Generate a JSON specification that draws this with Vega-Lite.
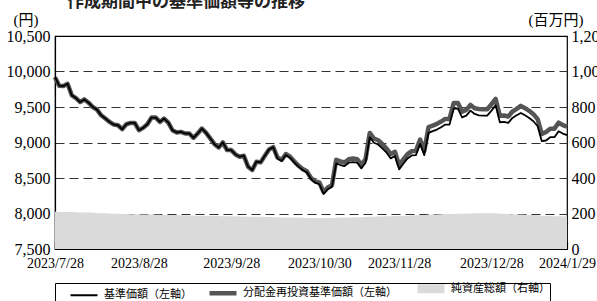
{
  "$schema": "https://vega.github.io/schema/vega-lite/v6.json",
  "width": 512,
  "height": 213,
  "autosize": "none",
  "padding": {"left": 55, "top": 36, "right": 30, "bottom": 52},
  "background": "white",
  "config": {
    "view": {"stroke": "black", "strokeWidth": 1.2},
    "font": "Liberation Serif"
  },
  "title": {
    "text": "作成期間中の基準価額等の推移",
    "anchor": "start",
    "frame": "group",
    "offset": -12,
    "baseline": "alphabetic",
    "dx": 12,
    "font": "Noto Sans CJK JP",
    "fontSize": 17,
    "fontWeight": "bold",
    "color": "#222222"
  },
  "data": {
    "values": [
      {"d": "2023/7/28", "nav": 9920, "re": 9920, "aum": 210},
      {"d": "2023/7/31", "nav": 9800, "re": 9800, "aum": 209},
      {"d": "2023/8/1", "nav": 9795, "re": 9795, "aum": 209},
      {"d": "2023/8/2", "nav": 9827, "re": 9827, "aum": 208},
      {"d": "2023/8/3", "nav": 9664, "re": 9664, "aum": 208},
      {"d": "2023/8/4", "nav": 9626, "re": 9626, "aum": 207},
      {"d": "2023/8/7", "nav": 9570, "re": 9570, "aum": 206},
      {"d": "2023/8/8", "nav": 9607, "re": 9607, "aum": 206},
      {"d": "2023/8/9", "nav": 9561, "re": 9561, "aum": 205},
      {"d": "2023/8/10", "nav": 9500, "re": 9500, "aum": 204},
      {"d": "2023/8/14", "nav": 9463, "re": 9463, "aum": 203},
      {"d": "2023/8/15", "nav": 9383, "re": 9383, "aum": 202},
      {"d": "2023/8/16", "nav": 9337, "re": 9337, "aum": 201},
      {"d": "2023/8/17", "nav": 9290, "re": 9290, "aum": 200},
      {"d": "2023/8/18", "nav": 9253, "re": 9253, "aum": 199},
      {"d": "2023/8/21", "nav": 9243, "re": 9243, "aum": 198},
      {"d": "2023/8/22", "nav": 9187, "re": 9187, "aum": 198},
      {"d": "2023/8/23", "nav": 9257, "re": 9257, "aum": 197},
      {"d": "2023/8/24", "nav": 9276, "re": 9276, "aum": 196},
      {"d": "2023/8/25", "nav": 9276, "re": 9276, "aum": 196},
      {"d": "2023/8/28", "nav": 9173, "re": 9173, "aum": 195},
      {"d": "2023/8/29", "nav": 9206, "re": 9206, "aum": 195},
      {"d": "2023/8/30", "nav": 9257, "re": 9257, "aum": 194},
      {"d": "2023/8/31", "nav": 9351, "re": 9351, "aum": 194},
      {"d": "2023/9/1", "nav": 9351, "re": 9351, "aum": 193},
      {"d": "2023/9/4", "nav": 9290, "re": 9290, "aum": 193},
      {"d": "2023/9/5", "nav": 9337, "re": 9337, "aum": 192},
      {"d": "2023/9/6", "nav": 9281, "re": 9281, "aum": 192},
      {"d": "2023/9/7", "nav": 9173, "re": 9173, "aum": 191},
      {"d": "2023/9/8", "nav": 9141, "re": 9141, "aum": 191},
      {"d": "2023/9/11", "nav": 9150, "re": 9150, "aum": 190},
      {"d": "2023/9/12", "nav": 9127, "re": 9127, "aum": 190},
      {"d": "2023/9/13", "nav": 9127, "re": 9127, "aum": 189},
      {"d": "2023/9/14", "nav": 9066, "re": 9066, "aum": 189},
      {"d": "2023/9/15", "nav": 9127, "re": 9127, "aum": 188},
      {"d": "2023/9/19", "nav": 9197, "re": 9197, "aum": 188},
      {"d": "2023/9/20", "nav": 9136, "re": 9136, "aum": 187},
      {"d": "2023/9/21", "nav": 9057, "re": 9057, "aum": 187},
      {"d": "2023/9/22", "nav": 8977, "re": 8977, "aum": 186},
      {"d": "2023/9/25", "nav": 8930, "re": 8930, "aum": 186},
      {"d": "2023/9/26", "nav": 9001, "re": 9001, "aum": 185},
      {"d": "2023/9/27", "nav": 8893, "re": 8893, "aum": 185},
      {"d": "2023/9/28", "nav": 8893, "re": 8893, "aum": 184},
      {"d": "2023/9/29", "nav": 8832, "re": 8832, "aum": 184},
      {"d": "2023/10/2", "nav": 8800, "re": 8800, "aum": 183},
      {"d": "2023/10/3", "nav": 8814, "re": 8814, "aum": 183},
      {"d": "2023/10/4", "nav": 8660, "re": 8660, "aum": 182},
      {"d": "2023/10/5", "nav": 8613, "re": 8613, "aum": 182},
      {"d": "2023/10/6", "nav": 8730, "re": 8730, "aum": 181},
      {"d": "2023/10/10", "nav": 8720, "re": 8720, "aum": 181},
      {"d": "2023/10/11", "nav": 8814, "re": 8814, "aum": 180},
      {"d": "2023/10/12", "nav": 8902, "re": 8902, "aum": 180},
      {"d": "2023/10/13", "nav": 8935, "re": 8935, "aum": 179},
      {"d": "2023/10/16", "nav": 8776, "re": 8791, "aum": 179},
      {"d": "2023/10/17", "nav": 8739, "re": 8754, "aum": 178},
      {"d": "2023/10/18", "nav": 8823, "re": 8838, "aum": 178},
      {"d": "2023/10/19", "nav": 8786, "re": 8801, "aum": 177},
      {"d": "2023/10/20", "nav": 8720, "re": 8735, "aum": 177},
      {"d": "2023/10/23", "nav": 8660, "re": 8675, "aum": 176},
      {"d": "2023/10/24", "nav": 8613, "re": 8628, "aum": 176},
      {"d": "2023/10/25", "nav": 8580, "re": 8595, "aum": 175},
      {"d": "2023/10/26", "nav": 8485, "re": 8500, "aum": 175},
      {"d": "2023/10/27", "nav": 8435, "re": 8450, "aum": 175},
      {"d": "2023/10/30", "nav": 8412, "re": 8437, "aum": 174},
      {"d": "2023/10/31", "nav": 8275, "re": 8300, "aum": 174},
      {"d": "2023/11/1", "nav": 8342, "re": 8367, "aum": 175},
      {"d": "2023/11/2", "nav": 8375, "re": 8400, "aum": 175},
      {"d": "2023/11/6", "nav": 8706, "re": 8756, "aum": 176},
      {"d": "2023/11/7", "nav": 8683, "re": 8733, "aum": 176},
      {"d": "2023/11/8", "nav": 8669, "re": 8719, "aum": 177},
      {"d": "2023/11/9", "nav": 8715, "re": 8765, "aum": 177},
      {"d": "2023/11/10", "nav": 8725, "re": 8775, "aum": 178},
      {"d": "2023/11/13", "nav": 8715, "re": 8765, "aum": 179},
      {"d": "2023/11/14", "nav": 8636, "re": 8686, "aum": 179},
      {"d": "2023/11/15", "nav": 8715, "re": 8765, "aum": 180},
      {"d": "2023/11/16", "nav": 9075, "re": 9135, "aum": 181},
      {"d": "2023/11/17", "nav": 8996, "re": 9056, "aum": 182},
      {"d": "2023/11/20", "nav": 8972, "re": 9032, "aum": 183},
      {"d": "2023/11/21", "nav": 8916, "re": 8976, "aum": 183},
      {"d": "2023/11/22", "nav": 8856, "re": 8916, "aum": 184},
      {"d": "2023/11/24", "nav": 8776, "re": 8836, "aum": 185},
      {"d": "2023/11/27", "nav": 8809, "re": 8869, "aum": 186},
      {"d": "2023/11/28", "nav": 8622, "re": 8682, "aum": 186},
      {"d": "2023/11/29", "nav": 8701, "re": 8761, "aum": 187},
      {"d": "2023/11/30", "nav": 8776, "re": 8836, "aum": 188},
      {"d": "2023/12/1", "nav": 8818, "re": 8878, "aum": 189},
      {"d": "2023/12/4", "nav": 8822, "re": 8882, "aum": 190},
      {"d": "2023/12/5", "nav": 8981, "re": 9041, "aum": 191},
      {"d": "2023/12/6", "nav": 8822, "re": 8882, "aum": 192},
      {"d": "2023/12/7", "nav": 9136, "re": 9216, "aum": 193},
      {"d": "2023/12/8", "nav": 9159, "re": 9239, "aum": 194},
      {"d": "2023/12/11", "nav": 9182, "re": 9262, "aum": 195},
      {"d": "2023/12/12", "nav": 9215, "re": 9295, "aum": 196},
      {"d": "2023/12/13", "nav": 9252, "re": 9332, "aum": 197},
      {"d": "2023/12/14", "nav": 9252, "re": 9332, "aum": 197},
      {"d": "2023/12/15", "nav": 9477, "re": 9557, "aum": 198},
      {"d": "2023/12/18", "nav": 9477, "re": 9557, "aum": 199},
      {"d": "2023/12/19", "nav": 9355, "re": 9435, "aum": 199},
      {"d": "2023/12/20", "nav": 9379, "re": 9459, "aum": 200},
      {"d": "2023/12/21", "nav": 9449, "re": 9529, "aum": 200},
      {"d": "2023/12/22", "nav": 9402, "re": 9482, "aum": 201},
      {"d": "2023/12/25", "nav": 9383, "re": 9473, "aum": 201},
      {"d": "2023/12/26", "nav": 9379, "re": 9469, "aum": 201},
      {"d": "2023/12/27", "nav": 9379, "re": 9469, "aum": 201},
      {"d": "2023/12/28", "nav": 9449, "re": 9539, "aum": 201},
      {"d": "2023/12/29", "nav": 9523, "re": 9613, "aum": 201},
      {"d": "2024/1/4", "nav": 9285, "re": 9375, "aum": 199},
      {"d": "2024/1/5", "nav": 9290, "re": 9380, "aum": 198},
      {"d": "2024/1/9", "nav": 9276, "re": 9366, "aum": 197},
      {"d": "2024/1/10", "nav": 9346, "re": 9436, "aum": 196},
      {"d": "2024/1/11", "nav": 9383, "re": 9473, "aum": 195},
      {"d": "2024/1/12", "nav": 9416, "re": 9516, "aum": 194},
      {"d": "2024/1/15", "nav": 9383, "re": 9483, "aum": 193},
      {"d": "2024/1/16", "nav": 9346, "re": 9446, "aum": 192},
      {"d": "2024/1/17", "nav": 9299, "re": 9399, "aum": 191},
      {"d": "2024/1/18", "nav": 9229, "re": 9329, "aum": 190},
      {"d": "2024/1/19", "nav": 9019, "re": 9119, "aum": 188},
      {"d": "2024/1/22", "nav": 9028, "re": 9148, "aum": 187},
      {"d": "2024/1/23", "nav": 9075, "re": 9195, "aum": 186},
      {"d": "2024/1/24", "nav": 9075, "re": 9195, "aum": 185},
      {"d": "2024/1/25", "nav": 9159, "re": 9279, "aum": 184},
      {"d": "2024/1/26", "nav": 9126, "re": 9246, "aum": 184},
      {"d": "2024/1/29", "nav": 9103, "re": 9223, "aum": 183}
    ]
  },
  "encoding": {
    "x": {
      "field": "d",
      "type": "ordinal",
      "sort": null,
      "scale": {"type": "point", "padding": 0},
      "axis": {
        "title": null,
        "values": ["2023/7/28", "2023/8/28", "2023/9/28", "2023/10/30", "2023/11/28", "2023/12/28", "2024/1/29"],
        "labelAngle": 0,
        "labelFont": "Liberation Serif",
        "labelFontSize": 14,
        "labelColor": "black",
        "labelFlush": false,
        "labelOverlap": false,
        "labelPadding": 15,
        "tickSize": -8,
        "tickColor": "black",
        "tickWidth": 1.2,
        "domainColor": "black",
        "domainWidth": 1.2,
        "grid": false
      }
    }
  },
  "layer": [
    {
      "mark": {"type": "area", "color": "#dadada", "opacity": 1},
      "encoding": {
        "y": {
          "field": "aum",
          "type": "quantitative",
          "scale": {"domain": [0, 1200], "nice": false},
          "axis": {
            "orient": "right",
            "values": [0, 200, 400, 600, 800, 1000, 1200],
            "format": ",.0f",
            "ticks": false,
            "domain": false,
            "grid": false,
            "labelFont": "Liberation Serif",
            "labelFontSize": 16,
            "labelColor": "black",
            "labelPadding": 4,
            "labelFlush": false,
            "title": "(百万円)",
            "titleAngle": 0,
            "titleX": -39,
            "titleY": -17,
            "titleAlign": "left",
            "titleBaseline": "middle",
            "titleFont": "Liberation Serif, Noto Sans CJK JP",
            "titleFontSize": 15,
            "titleFontWeight": "normal",
            "titleColor": "black"
          }
        },
        "color": {"datum": "純資産総額（右軸）"}
      }
    },
    {
      "layer": [
        {
          "mark": {"type": "line", "strokeWidth": 4.5, "strokeJoin": "round"},
          "encoding": {
            "y": {
              "field": "re",
              "type": "quantitative",
              "scale": {"domain": [7500, 10500], "nice": false},
              "axis": {
                "orient": "left",
                "values": [7500, 8000, 8500, 9000, 9500, 10000, 10500],
                "format": ",.0f",
                "ticks": false,
                "domainColor": "black",
                "domainWidth": 1.2,
                "labelFont": "Liberation Serif",
                "labelFontSize": 16,
                "labelColor": "black",
                "labelPadding": 5,
                "labelFlush": false,
                "grid": true,
                "gridColor": "#333333",
                "gridDash": [9, 5],
                "gridWidth": 1.2,
                "gridOpacity": {"condition": {"test": "datum.value == 7500 || datum.value == 10500", "value": 0}, "value": 1},
                "title": "(円)",
                "titleAngle": 0,
                "titleX": -42,
                "titleY": -17,
                "titleAlign": "left",
                "titleBaseline": "middle",
                "titleFont": "Liberation Serif, Noto Sans CJK JP",
                "titleFontSize": 15,
                "titleFontWeight": "normal",
                "titleColor": "black"
              }
            },
            "color": {"datum": "分配金再投資基準価額（左軸）"}
          }
        },
        {
          "mark": {"type": "line", "strokeWidth": 1.8, "strokeJoin": "round"},
          "encoding": {
            "y": {
              "field": "nav",
              "type": "quantitative",
              "scale": {"domain": [7500, 10500], "nice": false},
              "axis": {
                "orient": "left",
                "values": [7500, 8000, 8500, 9000, 9500, 10000, 10500],
                "format": ",.0f",
                "ticks": false,
                "domainColor": "black",
                "domainWidth": 1.2,
                "labelFont": "Liberation Serif",
                "labelFontSize": 16,
                "labelColor": "black",
                "labelPadding": 5,
                "labelFlush": false,
                "grid": true,
                "gridColor": "#333333",
                "gridDash": [9, 5],
                "gridWidth": 1.2,
                "gridOpacity": {"condition": {"test": "datum.value == 7500 || datum.value == 10500", "value": 0}, "value": 1},
                "title": "(円)",
                "titleAngle": 0,
                "titleX": -42,
                "titleY": -17,
                "titleAlign": "left",
                "titleBaseline": "middle",
                "titleFont": "Liberation Serif, Noto Sans CJK JP",
                "titleFontSize": 15,
                "titleFontWeight": "normal",
                "titleColor": "black"
              }
            },
            "color": {
              "datum": "基準価額（左軸）",
              "scale": {
                "domain": ["基準価額（左軸）", "分配金再投資基準価額（左軸）", "純資産総額（右軸）"],
                "range": ["#000000", "#555555", "#dadada"]
              },
              "legend": {
                "orient": "none",
                "legendX": 0,
                "legendY": 247,
                "direction": "horizontal",
                "columns": 3,
                "title": null,
                "strokeColor": "black",
                "padding": 0,
                "symbolType": "M-2.7,0H2.7",
                "symbolSize": 100,
                "symbolStrokeWidth": 2,
                "symbolOffset": 23.5,
                "labelOffset": 14.5,
                "labelFont": "Noto Sans CJK JP",
                "labelFontSize": 11,
                "labelColor": "black",
                "labelLimit": 400,
                "columnPadding": 2,
                "encode": {
                  "symbols": {
                    "update": {
                      "strokeWidth": {"signal": "datum.value == '基準価額（左軸）' ? 2 : datum.value == '分配金再投資基準価額（左軸）' ? 4.5 : 9"},
                      "stroke": {"signal": "datum.value == '基準価額（左軸）' ? '#000000' : datum.value == '分配金再投資基準価額（左軸）' ? '#555555' : '#dadada'"},
                      "fill": {"value": "transparent"},
                      "opacity": {"value": 1}
                    }
                  }
                }
              }
            }
          }
        }
      ]
    }
  ],
  "resolve": {"scale": {"y": "independent"}}
}
